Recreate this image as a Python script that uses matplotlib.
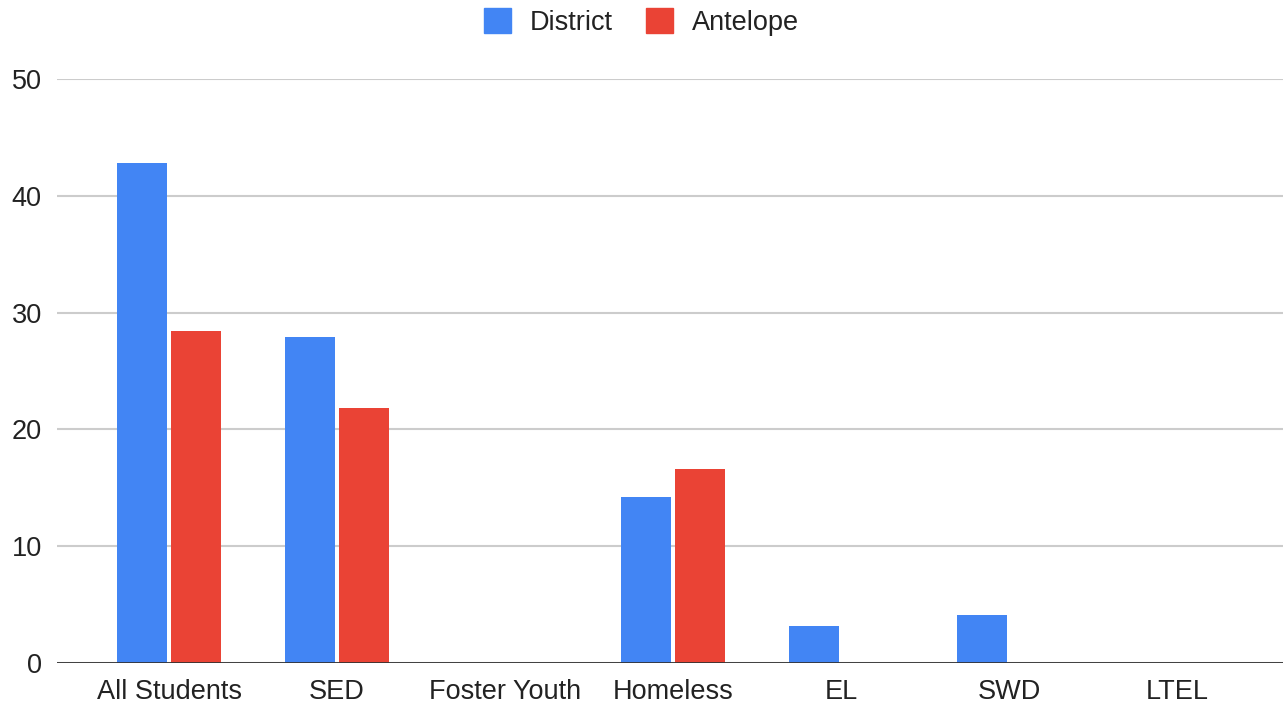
import matplotlib.pyplot as plt
import numpy as np
from matplotlib.patches import Patch

plt.rcParams['font.family'] = ['Liberation Sans', 'DejaVu Sans']

categories = ['All Students', 'SED', 'Foster Youth', 'Homeless', 'EL', 'SWD', 'LTEL']
district = [42.8, 27.9, 0, 14.2, 3.2, 4.1, 0]
antelope = [28.4, 21.8, 0, 16.6, 0, 0, 0]
yticks = [0, 10, 20, 30, 40, 50]

blue = '#4285F4'
red = '#EA4335'
txt = '#222222'

fig = plt.figure(figsize=(12.83, 7.05), dpi=100)
ax = fig.add_axes([57 / 1283, 1 - 663 / 705, 1 - 57 / 1283, (663 - 79) / 705])

x = np.arange(len(categories))
w = 0.298
ax.bar(x - 0.163, district, width=w, color=blue, zorder=3)
ax.bar(x + 0.163, antelope, width=w, color=red, zorder=3)

ax.set_xlim(-0.667, 6.631)
ax.set_ylim(0, 50)
ax.set_yticks(yticks)
ax.set_xticks(x)
ax.set_xticklabels(categories)
ax.tick_params(axis='both', length=0, labelsize=19.5, colors=txt)
ax.tick_params(axis='y', pad=11)
ax.tick_params(axis='x', pad=11.5)

ax.grid(axis='y', color='#cccccc', linewidth=1.5, zorder=0)
ax.axhline(0, color='#333333', linewidth=2, zorder=4)
for s in ax.spines.values():
    s.set_visible(False)

handles = [Patch(color=blue, label='District'), Patch(color=red, label='Antelope')]
fig.legend(handles=handles, loc='center', bbox_to_anchor=(0.5, 1 - 22 / 705), ncol=2,
           frameon=False, fontsize=19.5, handlelength=1.0, handleheight=1.0,
           handletextpad=0.7, columnspacing=1.2, labelcolor=txt)

fig.savefig('out.png', dpi=100)
